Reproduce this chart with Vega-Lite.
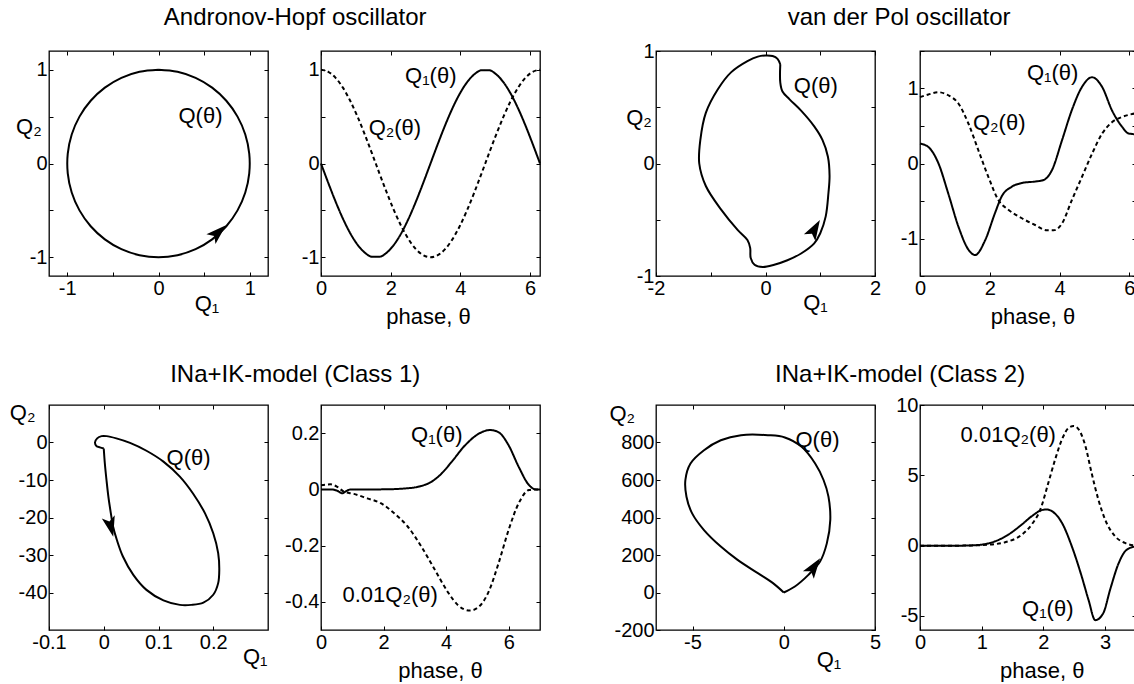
{
"$schema": "https://vega.github.io/schema/vega-lite/v6.json",
"padding": {"left": 8, "top": 6, "right": 0, "bottom": 0},
"autosize": {"type": "pad"},
"background": "white",
"config": {
 "font": "Liberation Sans",
 "view": {"stroke": "#000", "strokeWidth": 1.3},
 "axis": {"domain": false, "grid": false, "ticks": true, "tickSize": -4, "tickColor": "#000", "tickWidth": 1,
  "labelFont": "Liberation Sans", "labelFontSize": 20, "labelColor": "#000", "labelFlush": false, "labelOverlap": false, "labelPadding": 6,
  "titleFont": "Liberation Sans", "titleFontSize": 22, "titleFontWeight": "normal", "titleColor": "#000", "titleAngle": 0, "titleAlign": "center", "titleBaseline": "alphabetic", "titlePadding": 0},
 "axisX": {"titleAngle": 0},
 "axisY": {"titleAngle": 0},
 "line": {"color": "#000", "strokeWidth": 2},
 "text": {"font": "Liberation Sans", "fontSize": 22, "color": "#000"},
 "title": {"font": "Liberation Sans", "fontSize": 24, "fontWeight": "normal", "color": "#000", "anchor": "middle", "baseline": "alphabetic", "offset": 21, "limit": 1000}
},
"datasets": {
 "ah": [
  {"t":0,"q1":0,"q2":1},{"t":0.2094,"q1":-0.2079,"q2":0.9781},{"t":0.4189,"q1":-0.4067,"q2":0.9135},{"t":0.6283,"q1":-0.5878,"q2":0.809},
  {"t":0.8378,"q1":-0.7431,"q2":0.6691},{"t":1.0472,"q1":-0.866,"q2":0.5},{"t":1.2566,"q1":-0.9511,"q2":0.309},{"t":1.4661,"q1":-0.9945,"q2":0.1045},
  {"t":1.6755,"q1":-0.9945,"q2":-0.1045},{"t":1.885,"q1":-0.9511,"q2":-0.309},{"t":2.0944,"q1":-0.866,"q2":-0.5},{"t":2.3038,"q1":-0.7431,"q2":-0.6691},
  {"t":2.5133,"q1":-0.5878,"q2":-0.809},{"t":2.7227,"q1":-0.4067,"q2":-0.9135},{"t":2.9322,"q1":-0.2079,"q2":-0.9781},{"t":3.1416,"q1":0,"q2":-1},
  {"t":3.351,"q1":0.2079,"q2":-0.9781},{"t":3.5605,"q1":0.4067,"q2":-0.9135},{"t":3.7699,"q1":0.5878,"q2":-0.809},{"t":3.9794,"q1":0.7431,"q2":-0.6691},
  {"t":4.1888,"q1":0.866,"q2":-0.5},{"t":4.3982,"q1":0.9511,"q2":-0.309},{"t":4.6077,"q1":0.9945,"q2":-0.1045},{"t":4.8171,"q1":0.9945,"q2":0.1045},
  {"t":5.0265,"q1":0.9511,"q2":0.309},{"t":5.236,"q1":0.866,"q2":0.5},{"t":5.4454,"q1":0.7431,"q2":0.6691},{"t":5.6549,"q1":0.5878,"q2":0.809},
  {"t":5.8643,"q1":0.4067,"q2":0.9135},{"t":6.0737,"q1":0.2079,"q2":0.9781},{"t":6.2832,"q1":0,"q2":1}
 ],
 "vdp": [
  {"i":0,"q1":0.27,"q2":0.88},{"i":1,"q1":0.22,"q2":0.93},{"i":2,"q1":0.13,"q2":0.955},{"i":3,"q1":0,"q2":0.96},
  {"i":4,"q1":-0.14,"q2":0.95},{"i":5,"q1":-0.33,"q2":0.91},{"i":6,"q1":-0.63,"q2":0.81},{"i":7,"q1":-0.87,"q2":0.66},
  {"i":8,"q1":-1.09,"q2":0.45},{"i":9,"q1":-1.19,"q2":0.21},{"i":10,"q1":-1.21,"q2":0},{"i":11,"q1":-1.09,"q2":-0.2},
  {"i":12,"q1":-0.81,"q2":-0.41},{"i":13,"q1":-0.51,"q2":-0.59},{"i":14,"q1":-0.33,"q2":-0.68},{"i":15,"q1":-0.28,"q2":-0.75},
  {"i":16,"q1":-0.27,"q2":-0.84},{"i":17,"q1":-0.2,"q2":-0.9},{"i":18,"q1":-0.05,"q2":-0.92},{"i":19,"q1":0.16,"q2":-0.9},
  {"i":20,"q1":0.4,"q2":-0.86},{"i":21,"q1":0.65,"q2":-0.8},{"i":22,"q1":0.89,"q2":-0.71},{"i":23,"q1":1,"q2":-0.62},
  {"i":24,"q1":1.1,"q2":-0.47},{"i":25,"q1":1.15,"q2":-0.26},{"i":26,"q1":1.17,"q2":-0.11},{"i":27,"q1":1.14,"q2":0.06},
  {"i":28,"q1":1.04,"q2":0.21},{"i":29,"q1":0.89,"q2":0.33},{"i":30,"q1":0.65,"q2":0.47},{"i":31,"q1":0.44,"q2":0.57},
  {"i":32,"q1":0.31,"q2":0.64},{"i":33,"q1":0.27,"q2":0.72},{"i":34,"q1":0.27,"q2":0.88}
 ],
 "vdpts": [
  {"s":"q1","t":0,"v":0.265},{"s":"q1","t":0.24,"v":0.22},{"s":"q1","t":0.53,"v":0},{"s":"q1","t":0.81,"v":-0.4},
  {"s":"q1","t":1.1,"v":-0.84},{"s":"q1","t":1.39,"v":-1.15},{"s":"q1","t":1.58,"v":-1.22},{"s":"q1","t":1.87,"v":-1.02},
  {"s":"q1","t":2.15,"v":-0.66},{"s":"q1","t":2.34,"v":-0.44},{"s":"q1","t":2.63,"v":-0.31},{"s":"q1","t":2.92,"v":-0.26},
  {"s":"q1","t":3.3,"v":-0.24},{"s":"q1","t":3.54,"v":-0.22},{"s":"q1","t":3.78,"v":-0.09},{"s":"q1","t":4.07,"v":0.31},
  {"s":"q1","t":4.35,"v":0.71},{"s":"q1","t":4.64,"v":1.02},{"s":"q1","t":4.93,"v":1.15},{"s":"q1","t":5.22,"v":1.02},
  {"s":"q1","t":5.5,"v":0.71},{"s":"q1","t":5.79,"v":0.49},{"s":"q1","t":5.98,"v":0.4},{"s":"q1","t":6.19,"v":0.39},
  {"s":"q2","t":0,"v":0.885},{"s":"q2","t":0.24,"v":0.92},{"s":"q2","t":0.53,"v":0.95},{"s":"q2","t":0.81,"v":0.91},
  {"s":"q2","t":1.1,"v":0.8},{"s":"q2","t":1.39,"v":0.53},{"s":"q2","t":1.67,"v":0.18},{"s":"q2","t":1.96,"v":-0.18},
  {"s":"q2","t":2.25,"v":-0.49},{"s":"q2","t":2.54,"v":-0.62},{"s":"q2","t":2.92,"v":-0.73},{"s":"q2","t":3.3,"v":-0.82},
  {"s":"q2","t":3.64,"v":-0.89},{"s":"q2","t":3.83,"v":-0.89},{"s":"q2","t":4.07,"v":-0.8},{"s":"q2","t":4.35,"v":-0.49},
  {"s":"q2","t":4.64,"v":-0.18},{"s":"q2","t":4.93,"v":0.13},{"s":"q2","t":5.22,"v":0.4},{"s":"q2","t":5.5,"v":0.55},
  {"s":"q2","t":5.79,"v":0.62},{"s":"q2","t":6.08,"v":0.66},{"s":"q2","t":6.19,"v":0.67}
 ],
 "c1": [
  {"i":0,"q1":0,"q2":-1.6},{"i":1,"q1":0.002,"q2":-5.6},{"i":2,"q1":0.005,"q2":-10},{"i":3,"q1":0.0085,"q2":-14.5},
  {"i":4,"q1":0.013,"q2":-18.9},{"i":5,"q1":0.017,"q2":-22.4},{"i":6,"q1":0.024,"q2":-26},{"i":7,"q1":0.035,"q2":-30.4},
  {"i":8,"q1":0.054,"q2":-35.3},{"i":9,"q1":0.078,"q2":-39.3},{"i":10,"q1":0.109,"q2":-42.1},{"i":11,"q1":0.139,"q2":-43.3},
  {"i":12,"q1":0.16,"q2":-43.3},{"i":13,"q1":0.182,"q2":-42.7},{"i":14,"q1":0.2,"q2":-40.6},{"i":15,"q1":0.209,"q2":-37.5},
  {"i":16,"q1":0.211,"q2":-34},{"i":17,"q1":0.209,"q2":-29.5},{"i":18,"q1":0.2,"q2":-24.2},{"i":19,"q1":0.185,"q2":-18.9},
  {"i":20,"q1":0.163,"q2":-13.6},{"i":21,"q1":0.139,"q2":-9.1},{"i":22,"q1":0.109,"q2":-5.1},{"i":23,"q1":0.078,"q2":-2.2},
  {"i":24,"q1":0.048,"q2":-0.1},{"i":25,"q1":0.023,"q2":1.1},{"i":26,"q1":0.005,"q2":1.7},{"i":27,"q1":-0.004,"q2":1.7},
  {"i":28,"q1":-0.012,"q2":1.1},{"i":29,"q1":-0.016,"q2":0},{"i":30,"q1":-0.013,"q2":-1},{"i":31,"q1":-0.007,"q2":-1.3},
  {"i":32,"q1":0,"q2":-1.6}
 ],
 "c1ts": [
  {"s":"q1","t":0,"v":0},{"s":"q1","t":0.3,"v":0},{"s":"q1","t":0.52,"v":-0.005},{"s":"q1","t":0.68,"v":-0.014},
  {"s":"q1","t":0.78,"v":-0.008},{"s":"q1","t":0.95,"v":0},{"s":"q1","t":1.91,"v":0},{"s":"q1","t":2.77,"v":0.004},
  {"s":"q1","t":3.2,"v":0.012},{"s":"q1","t":3.53,"v":0.027},{"s":"q1","t":3.85,"v":0.056},{"s":"q1","t":4.17,"v":0.097},
  {"s":"q1","t":4.6,"v":0.156},{"s":"q1","t":5.03,"v":0.197},{"s":"q1","t":5.41,"v":0.211},{"s":"q1","t":5.68,"v":0.203},
  {"s":"q1","t":6,"v":0.156},{"s":"q1","t":6.32,"v":0.08},{"s":"q1","t":6.65,"v":0.015},{"s":"q1","t":6.86,"v":0},{"s":"q1","t":7,"v":0},
  {"s":"q2","t":0,"v":0.015},{"s":"q2","t":0.3,"v":0.018},{"s":"q2","t":0.52,"v":0.009},{"s":"q2","t":0.73,"v":-0.008},
  {"s":"q2","t":1.05,"v":-0.016},{"s":"q2","t":1.48,"v":-0.032},{"s":"q2","t":1.91,"v":-0.049},{"s":"q2","t":2.34,"v":-0.085},
  {"s":"q2","t":2.77,"v":-0.132},{"s":"q2","t":3.2,"v":-0.202},{"s":"q2","t":3.63,"v":-0.284},{"s":"q2","t":4.06,"v":-0.366},
  {"s":"q2","t":4.39,"v":-0.413},{"s":"q2","t":4.76,"v":-0.431},{"s":"q2","t":5.03,"v":-0.419},{"s":"q2","t":5.35,"v":-0.366},
  {"s":"q2","t":5.68,"v":-0.261},{"s":"q2","t":6,"v":-0.143},{"s":"q2","t":6.32,"v":-0.049},{"s":"q2","t":6.65,"v":-0.002},
  {"s":"q2","t":6.86,"v":0},{"s":"q2","t":7,"v":0}
 ],
 "c2": [
  {"i":0,"q1":0,"q2":0},{"i":1,"q1":0.61,"q2":32},{"i":2,"q1":1.35,"q2":94},{"i":3,"q1":1.99,"q2":165},
  {"i":4,"q1":2.36,"q2":262},{"i":5,"q1":2.55,"q2":387},{"i":6,"q1":2.45,"q2":511},{"i":7,"q1":2.18,"q2":600},
  {"i":8,"q1":1.72,"q2":688},{"i":9,"q1":0.98,"q2":777},{"i":10,"q1":0.06,"q2":827},{"i":11,"q1":-0.87,"q2":839},
  {"i":12,"q1":-2.34,"q2":839},{"i":13,"q1":-3.45,"q2":812},{"i":14,"q1":-4.37,"q2":759},{"i":15,"q1":-5.11,"q2":688},
  {"i":16,"q1":-5.39,"q2":600},{"i":17,"q1":-5.33,"q2":511},{"i":18,"q1":-5.02,"q2":422},{"i":19,"q1":-4.37,"q2":333},
  {"i":20,"q1":-3.45,"q2":245},{"i":21,"q1":-2.53,"q2":174},{"i":22,"q1":-1.42,"q2":103},{"i":23,"q1":-0.59,"q2":50},
  {"i":24,"q1":0,"q2":0}
 ],
 "c2ts": [
  {"s":"q1","t":0,"v":0},{"s":"q1","t":0.68,"v":0},{"s":"q1","t":1,"v":0.07},{"s":"q1","t":1.22,"v":0.31},
  {"s":"q1","t":1.43,"v":0.78},{"s":"q1","t":1.65,"v":1.5},{"s":"q1","t":1.81,"v":2.09},{"s":"q1","t":1.97,"v":2.52},
  {"s":"q1","t":2.05,"v":2.57},{"s":"q1","t":2.16,"v":2.38},{"s":"q1","t":2.3,"v":1.62},{"s":"q1","t":2.46,"v":-0.05},
  {"s":"q1","t":2.62,"v":-2.19},{"s":"q1","t":2.73,"v":-3.85},{"s":"q1","t":2.84,"v":-5.3},{"s":"q1","t":2.97,"v":-4.8},
  {"s":"q1","t":3.08,"v":-3.14},{"s":"q1","t":3.22,"v":-1.24},{"s":"q1","t":3.35,"v":-0.29},{"s":"q1","t":3.5,"v":-0.05},
  {"s":"q2","t":0,"v":0},{"s":"q2","t":0.68,"v":0},{"s":"q2","t":1.11,"v":0.07},{"s":"q2","t":1.38,"v":0.24},
  {"s":"q2","t":1.65,"v":0.78},{"s":"q2","t":1.81,"v":1.5},{"s":"q2","t":1.95,"v":2.57},{"s":"q2","t":2.08,"v":4.47},
  {"s":"q2","t":2.19,"v":6.13},{"s":"q2","t":2.3,"v":7.55},{"s":"q2","t":2.41,"v":8.38},{"s":"q2","t":2.49,"v":8.5},
  {"s":"q2","t":2.57,"v":8.27},{"s":"q2","t":2.68,"v":7.08},{"s":"q2","t":2.78,"v":5.18},{"s":"q2","t":2.89,"v":3.28},
  {"s":"q2","t":3,"v":1.85},{"s":"q2","t":3.16,"v":0.67},{"s":"q2","t":3.32,"v":0.19},{"s":"q2","t":3.5,"v":0}
 ]
},
"columns": 7,
"spacing": {"row": 129, "column": 0},
"bounds": "flush",
"concat": [
 {
  "width": 219, "height": 225,
  "data": {"name": "ah"},
  "layer": [
   {"mark": {"type": "line", "interpolate": "catmull-rom"},
    "encoding": {
     "x": {"field": "q1", "type": "quantitative", "scale": {"domain": [-1.2, 1.2], "nice": false, "zero": false},
       "axis": {"values": [-1, -0.5, 0, 0.5, 1], "labelExpr": "datum.value % 1 == 0 ? toString(datum.value) : ''", "title": "Q₁", "titleX": 157.4, "titleY": 34}},
     "y": {"field": "q2", "type": "quantitative", "scale": {"domain": [-1.2, 1.2], "nice": false, "zero": false},
       "axis": {"values": [-1, -0.5, 0, 0.5, 1], "labelExpr": "datum.value % 1 == 0 ? toString(datum.value) : ''", "title": "Q₂", "titleX": -20.6, "titleY": 82}},
     "order": {"field": "t", "type": "quantitative"}}},
   {"data": {"values": [{}]},
    "mark": {"type": "point", "shape": "M0,-1L0.65,1L0,0.55L-0.65,1Z", "filled": true, "size": 420, "angle": 47, "color": "#000", "opacity": 1},
    "encoding": {
     "x": {"datum": 0.657, "type": "quantitative", "scale": {"domain": [-1.2, 1.2], "nice": false, "zero": false},
       "axis": {"orient": "top", "values": [-1, -0.5, 0, 0.5, 1], "labels": false, "title": null}},
     "y": {"datum": -0.733, "type": "quantitative", "scale": {"domain": [-1.2, 1.2], "nice": false, "zero": false},
       "axis": {"orient": "right", "values": [-1, -0.5, 0, 0.5, 1], "labels": false, "title": null}}}},
   {"data": {"values": [{}]},
    "mark": {"type": "text", "align": "center", "baseline": "middle"},
    "encoding": {
     "x": {"datum": 0.46, "type": "quantitative", "axis": null},
     "y": {"datum": 0.51, "type": "quantitative", "axis": null},
     "text": {"value": "Q(θ)"}}}
  ],
  "resolve": {"axis": {"x": "independent", "y": "independent"}}
 },
 {"width": 52.4, "height": 225, "view": {"stroke": null}, "data": {"values": [{}]}, "mark": {"type": "point", "opacity": 0},
  "title": {"text": "Andronov-Hopf oscillator", "dx": 1}},
 {
  "width": 219, "height": 225,
  "data": {"name": "ah"},
  "transform": [{"fold": ["q1", "q2"], "as": ["s", "v"]}],
  "layer": [
   {"mark": {"type": "line", "interpolate": "monotone"},
    "encoding": {
     "x": {"field": "t", "type": "quantitative", "scale": {"domain": [0, 6.2832], "nice": false, "zero": false},
       "axis": {"values": [0, 2, 4, 6], "labelExpr": "toString(datum.value)", "title": "phase, θ", "titleX": 107, "titleY": 47}},
     "y": {"field": "v", "type": "quantitative", "scale": {"domain": [-1.2, 1.2], "nice": false, "zero": false},
       "axis": {"values": [-1, -0.5, 0, 0.5, 1], "labelExpr": "datum.value % 1 == 0 ? toString(datum.value) : ''", "title": null}},
     "strokeDash": {"field": "s", "type": "nominal", "scale": {"domain": ["q1", "q2"], "range": [[1, 0], [4, 3]]}, "legend": null}}},
   {"data": {"values": [{}]},
    "mark": {"type": "text", "align": "center", "baseline": "middle"},
    "encoding": {
     "x": {"datum": 3.15, "type": "quantitative", "scale": {"domain": [0, 6.2832], "nice": false, "zero": false},
       "axis": {"orient": "top", "values": [0, 2, 4, 6], "labels": false, "title": null}},
     "y": {"datum": 0.93, "type": "quantitative", "scale": {"domain": [-1.2, 1.2], "nice": false, "zero": false},
       "axis": {"orient": "right", "values": [-1, -0.5, 0, 0.5, 1], "labels": false, "title": null}},
     "text": {"value": "Q₁(θ)"}}},
   {"data": {"values": [{}]},
    "mark": {"type": "text", "align": "center", "baseline": "middle"},
    "encoding": {
     "x": {"datum": 2.12, "type": "quantitative", "axis": null},
     "y": {"datum": 0.375, "type": "quantitative", "axis": null},
     "text": {"value": "Q₂(θ)"}}}
  ],
  "resolve": {"axis": {"x": "independent", "y": "independent"}}
 },
 {"width": 115.3, "height": 225, "view": {"stroke": null}, "data": {"values": [{}]}, "mark": {"type": "point", "opacity": 0}},
 {
  "width": 219, "height": 225,
  "data": {"name": "vdp"},
  "layer": [
   {"mark": {"type": "line", "interpolate": "catmull-rom"},
    "encoding": {
     "x": {"field": "q1", "type": "quantitative", "scale": {"domain": [-2, 2], "nice": false, "zero": false},
       "axis": {"values": [-2, -1, 0, 1, 2], "labelExpr": "datum.value % 2 == 0 ? toString(datum.value) : ''", "title": "Q₁", "titleX": 159, "titleY": 33}},
     "y": {"field": "q2", "type": "quantitative", "scale": {"domain": [-1, 1], "nice": false, "zero": false},
       "axis": {"values": [-1, -0.5, 0, 0.5, 1], "labelExpr": "datum.value % 1 == 0 ? toString(datum.value) : ''", "title": "Q₂", "titleX": -17.5, "titleY": 73}},
     "order": {"field": "i", "type": "quantitative"}}},
   {"data": {"values": [{}]},
    "mark": {"type": "point", "shape": "M0,-1L0.65,1L0,0.55L-0.65,1Z", "filled": true, "size": 420, "angle": 30, "color": "#000", "opacity": 1},
    "encoding": {
     "x": {"datum": 0.9, "type": "quantitative", "scale": {"domain": [-2, 2], "nice": false, "zero": false},
       "axis": {"orient": "top", "values": [-2, -1, 0, 1, 2], "labels": false, "title": null}},
     "y": {"datum": -0.58, "type": "quantitative", "scale": {"domain": [-1, 1], "nice": false, "zero": false},
       "axis": {"orient": "right", "values": [-1, -0.5, 0, 0.5, 1], "labels": false, "title": null}}}},
   {"data": {"values": [{}]},
    "mark": {"type": "text", "align": "center", "baseline": "middle"},
    "encoding": {
     "x": {"datum": 0.92, "type": "quantitative", "axis": null},
     "y": {"datum": 0.69, "type": "quantitative", "axis": null},
     "text": {"value": "Q(θ)"}}}
  ],
  "resolve": {"axis": {"x": "independent", "y": "independent"}}
 },
 {"width": 44.3, "height": 225, "view": {"stroke": null}, "data": {"values": [{}]}, "mark": {"type": "point", "opacity": 0},
  "title": {"text": "van der Pol oscillator", "dx": 2}},
 {
  "width": 216, "height": 225,
  "data": {"name": "vdpts"},
  "layer": [
   {"mark": {"type": "line", "interpolate": "monotone"},
    "encoding": {
     "x": {"field": "t", "type": "quantitative", "scale": {"domain": [0, 6.19], "nice": false, "zero": false},
       "axis": {"values": [0, 2, 4, 6], "labelExpr": "toString(datum.value)", "title": "phase, θ", "titleX": 112.5, "titleY": 47}},
     "y": {"field": "v", "type": "quantitative", "scale": {"domain": [-1.5, 1.5], "nice": false, "zero": false},
       "axis": {"values": [-1.5, -1, -0.5, 0, 0.5, 1, 1.5], "labelExpr": "datum.value % 1 == 0 ? toString(datum.value) : ''", "title": null}},
     "strokeDash": {"field": "s", "type": "nominal", "scale": {"domain": ["q1", "q2"], "range": [[1, 0], [4, 3]]}, "legend": null}}},
   {"data": {"values": [{}]},
    "mark": {"type": "text", "align": "center", "baseline": "middle"},
    "encoding": {
     "x": {"datum": 3.8, "type": "quantitative", "scale": {"domain": [0, 6.19], "nice": false, "zero": false},
       "axis": {"orient": "top", "values": [0, 2, 4, 6], "labels": false, "title": null}},
     "y": {"datum": 1.21, "type": "quantitative", "scale": {"domain": [-1.5, 1.5], "nice": false, "zero": false},
       "axis": {"orient": "right", "values": [-1.5, -1, -0.5, 0, 0.5, 1, 1.5], "labels": false, "title": null}},
     "text": {"value": "Q₁(θ)"}}},
   {"data": {"values": [{}]},
    "mark": {"type": "text", "align": "center", "baseline": "middle"},
    "encoding": {
     "x": {"datum": 2.27, "type": "quantitative", "axis": null},
     "y": {"datum": 0.54, "type": "quantitative", "axis": null},
     "text": {"value": "Q₂(θ)"}}}
  ],
  "resolve": {"axis": {"x": "independent", "y": "independent"}}
 },
 {
  "width": 219, "height": 225,
  "data": {"name": "c1"},
  "layer": [
   {"mark": {"type": "line", "interpolate": "catmull-rom"},
    "encoding": {
     "x": {"field": "q1", "type": "quantitative", "scale": {"domain": [-0.1, 0.3], "nice": false, "zero": false},
       "axis": {"values": [-0.1, 0, 0.1, 0.2], "labelExpr": "toString(datum.value)", "title": "Q₁", "titleX": 205.7, "titleY": 33}},
     "y": {"field": "q2", "type": "quantitative", "scale": {"domain": [-50, 10], "nice": false, "zero": false},
       "axis": {"values": [-40, -30, -20, -10, 0], "labelExpr": "toString(datum.value)", "title": "Q₂", "titleX": -26.8, "titleY": 14}},
     "order": {"field": "i", "type": "quantitative"}}},
   {"data": {"values": [{}]},
    "mark": {"type": "point", "shape": "M0,-1L0.65,1L0,0.55L-0.65,1Z", "filled": true, "size": 420, "angle": 166, "color": "#000", "opacity": 1},
    "encoding": {
     "x": {"datum": 0.0128, "type": "quantitative", "scale": {"domain": [-0.1, 0.3], "nice": false, "zero": false},
       "axis": {"orient": "top", "values": [-0.1, 0, 0.1, 0.2], "labels": false, "title": null}},
     "y": {"datum": -22.5, "type": "quantitative", "scale": {"domain": [-50, 10], "nice": false, "zero": false},
       "axis": {"orient": "right", "values": [-40, -30, -20, -10, 0], "labels": false, "title": null}}}},
   {"data": {"values": [{}]},
    "mark": {"type": "text", "align": "center", "baseline": "middle"},
    "encoding": {
     "x": {"datum": 0.155, "type": "quantitative", "axis": null},
     "y": {"datum": -4, "type": "quantitative", "axis": null},
     "text": {"value": "Q(θ)"}}}
  ],
  "resolve": {"axis": {"x": "independent", "y": "independent"}}
 },
 {"width": 52.4, "height": 225, "view": {"stroke": null}, "data": {"values": [{}]}, "mark": {"type": "point", "opacity": 0},
  "title": {"text": "INa+IK-model (Class 1)", "dx": 1, "offset": 18}},
 {
  "width": 219, "height": 225,
  "data": {"name": "c1ts"},
  "layer": [
   {"mark": {"type": "line", "interpolate": "monotone"},
    "encoding": {
     "x": {"field": "t", "type": "quantitative", "scale": {"domain": [0, 7], "nice": false, "zero": false},
       "axis": {"values": [0, 2, 4, 6], "labelExpr": "toString(datum.value)", "title": "phase, θ", "titleX": 119, "titleY": 47}},
     "y": {"field": "v", "type": "quantitative", "scale": {"domain": [-0.5, 0.3], "nice": false, "zero": false},
       "axis": {"values": [-0.4, -0.2, 0, 0.2], "labelExpr": "toString(datum.value)", "title": null}},
     "strokeDash": {"field": "s", "type": "nominal", "scale": {"domain": ["q1", "q2"], "range": [[1, 0], [4, 3]]}, "legend": null}}},
   {"data": {"values": [{}]},
    "mark": {"type": "text", "align": "center", "baseline": "middle"},
    "encoding": {
     "x": {"datum": 3.7, "type": "quantitative", "scale": {"domain": [0, 7], "nice": false, "zero": false},
       "axis": {"orient": "top", "values": [0, 2, 4, 6], "labels": false, "title": null}},
     "y": {"datum": 0.195, "type": "quantitative", "scale": {"domain": [-0.5, 0.3], "nice": false, "zero": false},
       "axis": {"orient": "right", "values": [-0.4, -0.2, 0, 0.2], "labels": false, "title": null}},
     "text": {"value": "Q₁(θ)"}}},
   {"data": {"values": [{}]},
    "mark": {"type": "text", "align": "center", "baseline": "middle"},
    "encoding": {
     "x": {"datum": 2.21, "type": "quantitative", "axis": null},
     "y": {"datum": -0.375, "type": "quantitative", "axis": null},
     "text": {"value": "0.01Q₂(θ)"}}}
  ],
  "resolve": {"axis": {"x": "independent", "y": "independent"}}
 },
 {"width": 115.3, "height": 225, "view": {"stroke": null}, "data": {"values": [{}]}, "mark": {"type": "point", "opacity": 0}},
 {
  "width": 219, "height": 225,
  "data": {"name": "c2"},
  "layer": [
   {"mark": {"type": "line", "interpolate": "catmull-rom"},
    "encoding": {
     "x": {"field": "q1", "type": "quantitative", "scale": {"domain": [-7, 5], "nice": false, "zero": false},
       "axis": {"values": [-5, 0, 5], "labelExpr": "toString(datum.value)", "title": "Q₁", "titleX": 172.5, "titleY": 36}},
     "y": {"field": "q2", "type": "quantitative", "scale": {"domain": [-200, 1000], "nice": false, "zero": false},
       "axis": {"values": [-200, 0, 200, 400, 600, 800], "labelExpr": "toString(datum.value)", "title": "Q₂", "titleX": -34.2, "titleY": 15}},
     "order": {"field": "i", "type": "quantitative"}}},
   {"data": {"values": [{}]},
    "mark": {"type": "point", "shape": "M0,-1L0.65,1L0,0.55L-0.65,1Z", "filled": true, "size": 420, "angle": 35, "color": "#000", "opacity": 1},
    "encoding": {
     "x": {"datum": 1.67, "type": "quantitative", "scale": {"domain": [-7, 5], "nice": false, "zero": false},
       "axis": {"orient": "top", "values": [-5, 0, 5], "labels": false, "title": null}},
     "y": {"datum": 138, "type": "quantitative", "scale": {"domain": [-200, 1000], "nice": false, "zero": false},
       "axis": {"orient": "right", "values": [-200, 0, 200, 400, 600, 800], "labels": false, "title": null}}}},
   {"data": {"values": [{}]},
    "mark": {"type": "text", "align": "center", "baseline": "middle"},
    "encoding": {
     "x": {"datum": 1.85, "type": "quantitative", "axis": null},
     "y": {"datum": 815, "type": "quantitative", "axis": null},
     "text": {"value": "Q(θ)"}}}
  ],
  "resolve": {"axis": {"x": "independent", "y": "independent"}}
 },
 {"width": 44.3, "height": 225, "view": {"stroke": null}, "data": {"values": [{}]}, "mark": {"type": "point", "opacity": 0},
  "title": {"text": "INa+IK-model (Class 2)", "dx": 3, "offset": 18}},
 {
  "width": 216, "height": 225,
  "data": {"name": "c2ts"},
  "layer": [
   {"mark": {"type": "line", "interpolate": "monotone"},
    "encoding": {
     "x": {"field": "t", "type": "quantitative", "scale": {"domain": [0, 3.5], "nice": false, "zero": false},
       "axis": {"values": [0, 1, 2, 3], "labelExpr": "toString(datum.value)", "title": "phase, θ", "titleX": 121.7, "titleY": 47}},
     "y": {"field": "v", "type": "quantitative", "scale": {"domain": [-6, 10], "nice": false, "zero": false},
       "axis": {"values": [-5, 0, 5, 10], "labelExpr": "toString(datum.value)", "title": null}},
     "strokeDash": {"field": "s", "type": "nominal", "scale": {"domain": ["q1", "q2"], "range": [[1, 0], [4, 3]]}, "legend": null}}},
   {"data": {"values": [{}]},
    "mark": {"type": "text", "align": "center", "baseline": "middle"},
    "encoding": {
     "x": {"datum": 1.43, "type": "quantitative", "scale": {"domain": [0, 3.5], "nice": false, "zero": false},
       "axis": {"orient": "top", "values": [0, 1, 2, 3], "labels": false, "title": null}},
     "y": {"datum": 7.84, "type": "quantitative", "scale": {"domain": [-6, 10], "nice": false, "zero": false},
       "axis": {"orient": "right", "values": [-5, 0, 5, 10], "labels": false, "title": null}},
     "text": {"value": "0.01Q₂(θ)"}}},
   {"data": {"values": [{}]},
    "mark": {"type": "text", "align": "center", "baseline": "middle"},
    "encoding": {
     "x": {"datum": 2.07, "type": "quantitative", "axis": null},
     "y": {"datum": -4.48, "type": "quantitative", "axis": null},
     "text": {"value": "Q₁(θ)"}}}
  ],
  "resolve": {"axis": {"x": "independent", "y": "independent"}}
 }
]
}
